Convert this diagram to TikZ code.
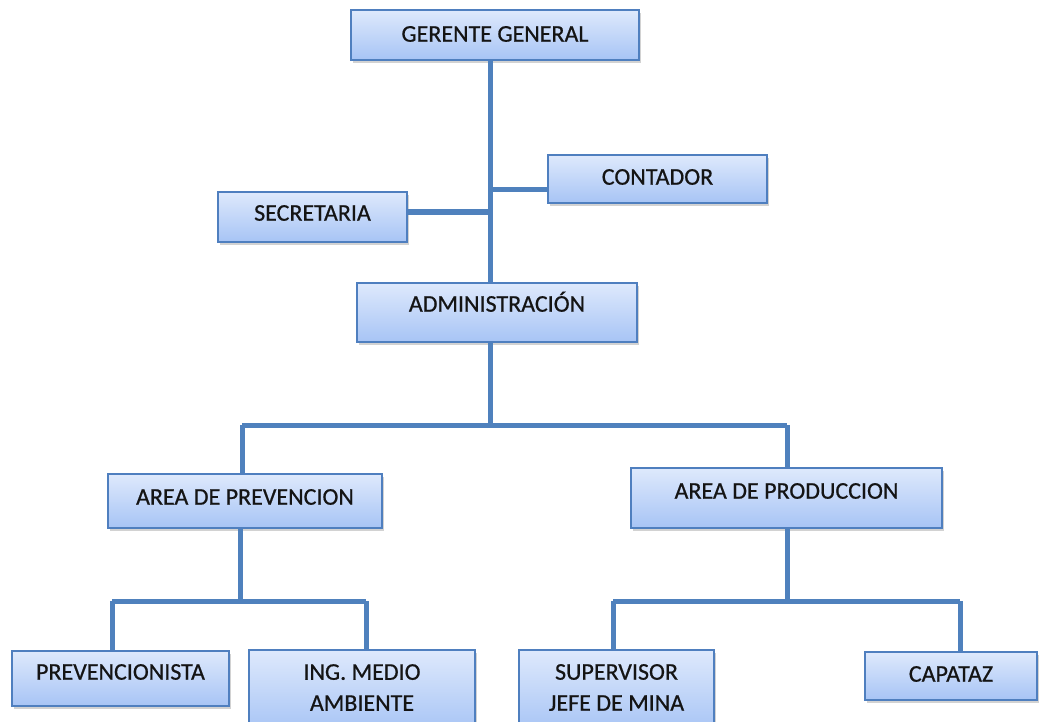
\documentclass[tikz,border=0pt]{standalone}
\usepackage{fontspec}
\setmainfont{Carlito}
\newfontfamily\boxfont[FakeBold=0.6]{Carlito}
\usetikzlibrary{shadows}
\definecolor{boxtop}{HTML}{DEE9FC}
\definecolor{boxbot}{HTML}{A7C4F5}
\definecolor{boxline}{HTML}{4F7FBF}
\definecolor{conn}{HTML}{4F81BD}
\tikzset{
  orgbox/.style={draw=boxline, line width=1.6pt, top color=boxtop, bottom color=boxbot,
    drop shadow={shadow xshift=2pt, shadow yshift=-3pt, opacity=0.35}, inner sep=0pt},
  lbl/.style={font=\boxfont\fontsize{24}{31}\selectfont, text=black!92, align=center, inner sep=0pt},
  lblb/.style={lbl, anchor=base},
  link/.style={draw=conn, line width=5pt}
}
\begin{document}
\begin{tikzpicture}[x=1pt,y=-1pt]
\useasboundingbox (0,0) rectangle (1039,722);
\fill[white] (0,0) rectangle (1039,722);

% junction points
\coordinate (t1) at (490,190);
\coordinate (t2) at (490,212);
\coordinate (hA) at (490,425);
\coordinate (hL) at (242,425);
\coordinate (hR) at (787,425);
\coordinate (pM) at (240,601);
\coordinate (pL) at (112,601);
\coordinate (pR) at (366,601);
\coordinate (qM) at (787,601);
\coordinate (qL) at (613,601);
\coordinate (qR) at (960,601);

% boxes
\node[orgbox, minimum width=288pt, minimum height=50pt] (ger) at (495,35) {};
\node[orgbox, minimum width=219pt, minimum height=48pt] (cont) at (657.5,179) {};
\node[orgbox, minimum width=189pt, minimum height=50pt] (sec) at (312.5,217) {};
\node[orgbox, minimum width=280pt, minimum height=59pt] (adm) at (497,312.5) {};
\node[orgbox, minimum width=274pt, minimum height=54pt] (aprev) at (245,501) {};
\node[orgbox, minimum width=311pt, minimum height=60pt] (aprod) at (786.5,498) {};
\node[orgbox, minimum width=217pt, minimum height=55pt] (prev) at (120.5,678.5) {};
\node[orgbox, minimum width=226pt, minimum height=82pt] (ing) at (362,691) {};
\node[orgbox, minimum width=195pt, minimum height=82pt] (sup) at (616.5,691) {};
\node[orgbox, minimum width=172pt, minimum height=48pt] (cap) at (951,676) {};

% connectors
\draw[link] (ger.south -| t1) -- (adm.north -| t1);
\draw[link] (t1) -- (cont.west |- t1);
\draw[link, line width=6.5pt] (sec.east |- t2) -- (t2);
\draw[link] (adm.south -| hA) -- (hA);
\draw[link] (hL) -- (hR);
\draw[link] (hL) -- (aprev.north -| hL);
\draw[link] (hR) -- (aprod.north -| hR);
\draw[link] (aprev.south -| pM) -- (pM);
\draw[link] (pL) -- (pR);
\draw[link] (pL) -- (prev.north -| pL);
\draw[link] (pR) -- (ing.north -| pR);
\draw[link] (aprod.south -| qM) -- (qM);
\draw[link] (qL) -- (qR);
\draw[link] (qL) -- (sup.north -| qL);
\draw[link] (qR) -- (cap.north -| qR);

% labels
\node[lblb] (gerT) at (495,41.7) {GERENTE GENERAL};
\node[lblb] (contT) at (657.5,184.7) {CONTADOR};
\node[lblb] (secT) at (312.5,220.7) {SECRETARIA};
\node[lblb] (admT) at (497,311.7) {ADMINISTRACIÓN};
\node[lblb] (aprevT) at (245,504.7) {AREA DE PREVENCION};
\node[lblb] (aprodT) at (786.5,498.7) {AREA DE PRODUCCION};
\node[lblb] (prevT) at (120.5,679.7) {PREVENCIONISTA};
\node[lbl] (ingT) at (362,687.5) {ING. MEDIO\\AMBIENTE};
\node[lbl] (supT) at (616.5,687.5) {SUPERVISOR\\JEFE DE MINA};
\node[lblb] (capT) at (951,681.7) {CAPATAZ};
\end{tikzpicture}
\end{document}
